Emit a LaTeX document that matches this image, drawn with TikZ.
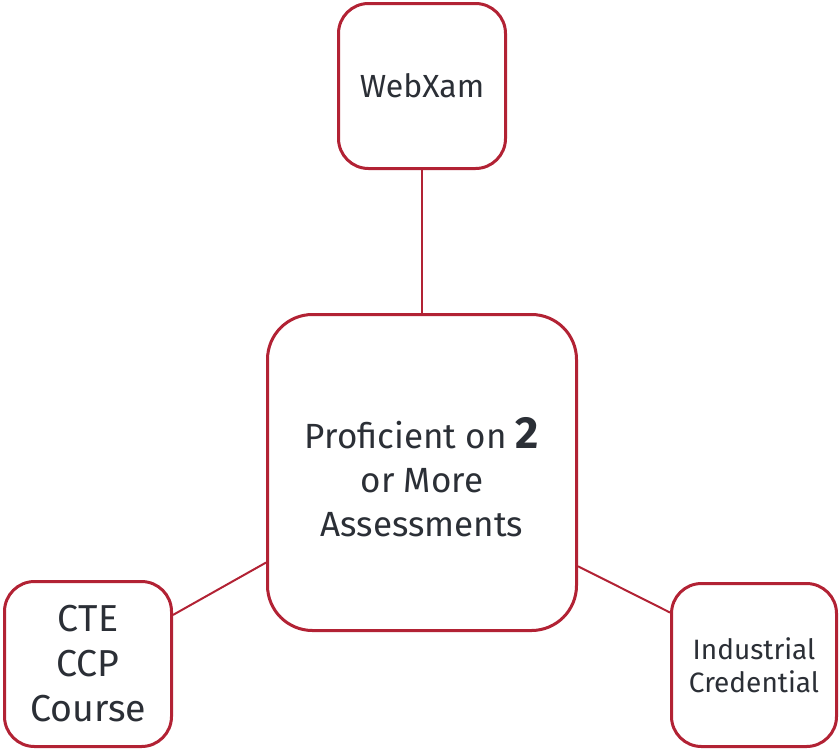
\documentclass[tikz,border=0pt]{standalone}
\usepackage{fontspec}
\setmainfont{Fira Sans}
\definecolor{boxred}{HTML}{B22234}
\definecolor{txt}{HTML}{2B2F36}
\begin{document}
\begin{tikzpicture}[x=1pt,y=-1pt,
  box/.style={draw=boxred, line width=3pt, fill=white, rounded corners=30pt, inner sep=0pt, align=center, text=txt},
  link/.style={draw=boxred, line width=2pt}]
\useasboundingbox (0,0) rectangle (840,750);
\node[box, minimum width=167pt, minimum height=165pt, font=\fontsize{32}{38}\selectfont] (web) at (422,86) {WebXam};
\node[box, rounded corners=45pt, minimum width=309pt, minimum height=316pt, font=\fontsize{35}{44}\selectfont] (main) at (422,472.5) {\raisebox{-11pt}[\height][\depth]{\begin{tabular}{@{}c@{}}Proficient on {\fontsize{45}{44}\selectfont\bfseries 2}\\or More\\Assessments\end{tabular}}};
\node[box, minimum width=167pt, minimum height=165pt, font=\fontsize{37.5}{45}\selectfont] (cte) at (88,664) {CTE\\CCP\\Course};
\node[box, minimum width=165pt, minimum height=163pt, font=\fontsize{28}{32.5}\selectfont] (ind) at (754,665) {Industrial\\Credential};
\draw[link] (web.south) -- (main.north);
\draw[link] (cte.30.5) -- (main.210.1);
\draw[link] (ind.148.7) -- (main.329.9);
\end{tikzpicture}
\end{document}
